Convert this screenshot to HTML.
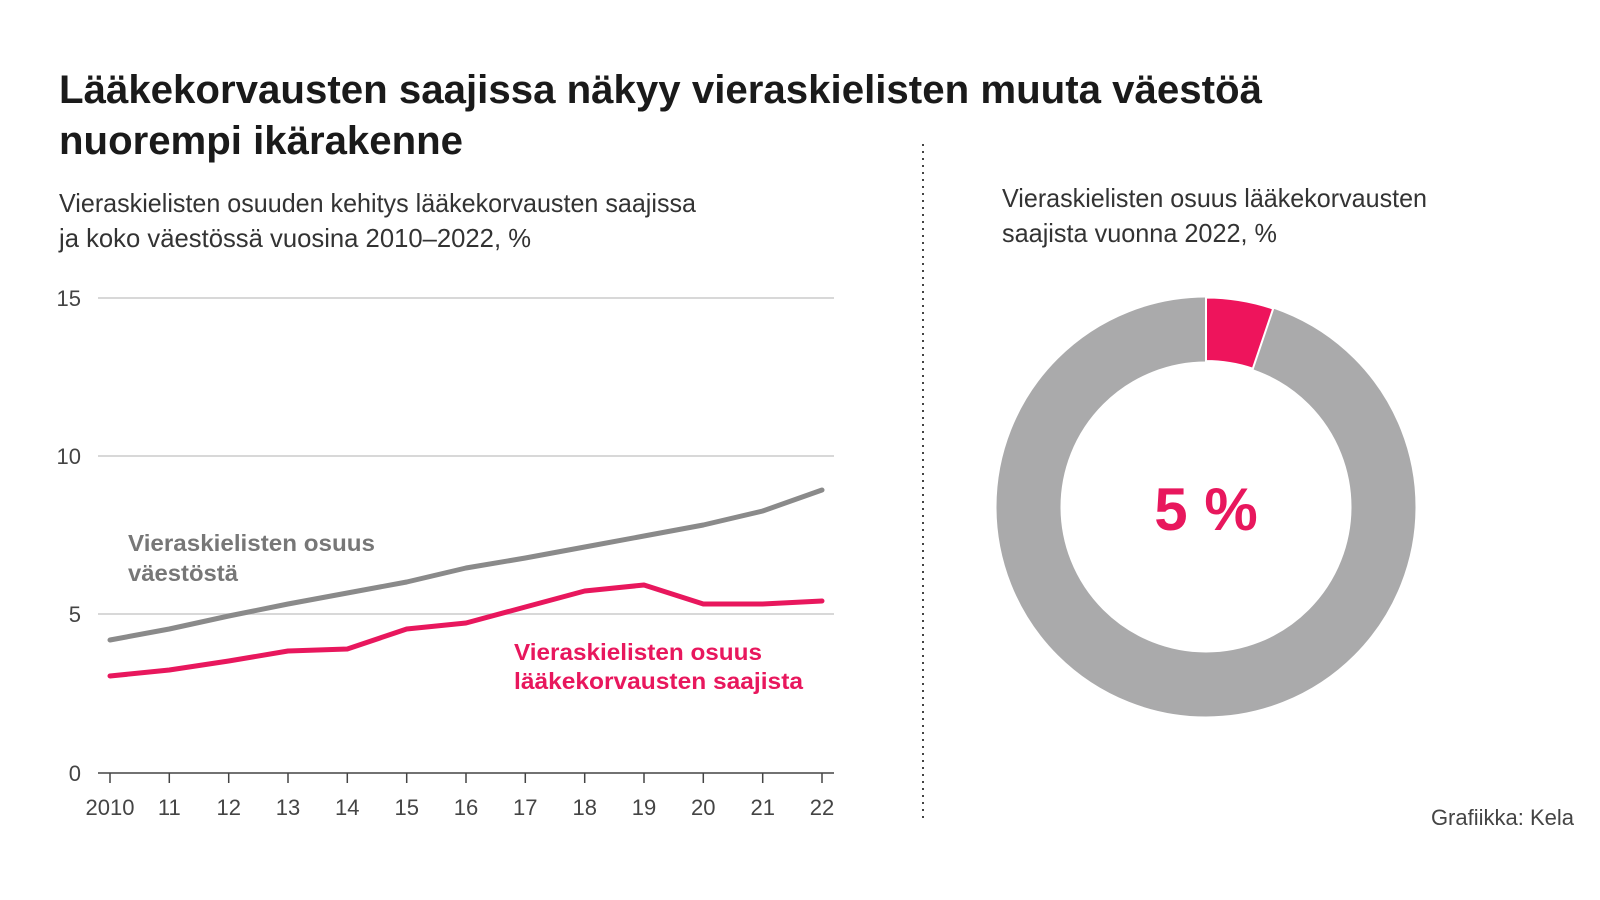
<!DOCTYPE html>
<html><head><meta charset="utf-8"><style>html,body{margin:0;padding:0;background:#fff}svg{display:block}</style></head>
<body>
<svg width="1600" height="900" viewBox="0 0 1600 900" xmlns="http://www.w3.org/2000/svg" font-family="Liberation Sans, sans-serif">
<text x="59" y="103" font-size="40" font-weight="bold" fill="#1a1a1a" textLength="1203" lengthAdjust="spacingAndGlyphs">Lääkekorvausten saajissa näkyy vieraskielisten muuta väestöä</text>
<text x="59" y="154" font-size="40" font-weight="bold" fill="#1a1a1a" textLength="404" lengthAdjust="spacingAndGlyphs">nuorempi ikärakenne</text>
<text x="59" y="212" font-size="26" fill="#333" textLength="637" lengthAdjust="spacingAndGlyphs">Vieraskielisten osuuden kehitys lääkekorvausten saajissa</text>
<text x="59" y="247" font-size="26" fill="#333" textLength="472" lengthAdjust="spacingAndGlyphs">ja koko väestössä vuosina 2010–2022, %</text>
<text x="1002" y="207" font-size="26" fill="#333" textLength="425" lengthAdjust="spacingAndGlyphs">Vieraskielisten osuus lääkekorvausten</text>
<text x="1002" y="242" font-size="26" fill="#333" textLength="275" lengthAdjust="spacingAndGlyphs">saajista vuonna 2022, %</text>
<line x1="923" y1="144" x2="923" y2="823" stroke="#444" stroke-width="2" stroke-dasharray="2,5"/>
<g stroke="#ccc" stroke-width="1.5">
<line x1="98" y1="298" x2="834" y2="298"/>
<line x1="98" y1="456" x2="834" y2="456"/>
<line x1="98" y1="614" x2="834" y2="614"/>
</g>
<line x1="98" y1="773" x2="834" y2="773" stroke="#444" stroke-width="1.5"/>
<g stroke="#444" stroke-width="1.5">
<line x1="110" y1="773" x2="110" y2="783"/><line x1="169.3" y1="773" x2="169.3" y2="783"/><line x1="228.7" y1="773" x2="228.7" y2="783"/><line x1="288" y1="773" x2="288" y2="783"/><line x1="347.3" y1="773" x2="347.3" y2="783"/><line x1="406.7" y1="773" x2="406.7" y2="783"/><line x1="466" y1="773" x2="466" y2="783"/><line x1="525.3" y1="773" x2="525.3" y2="783"/><line x1="584.7" y1="773" x2="584.7" y2="783"/><line x1="644" y1="773" x2="644" y2="783"/><line x1="703.3" y1="773" x2="703.3" y2="783"/><line x1="762.7" y1="773" x2="762.7" y2="783"/><line x1="822" y1="773" x2="822" y2="783"/>
</g>
<g font-size="22" fill="#444" text-anchor="end">
<text x="81" y="306">15</text><text x="81" y="464">10</text><text x="81" y="622">5</text><text x="81" y="781">0</text>
</g>
<g font-size="22" fill="#444" text-anchor="middle">
<text x="110" y="815">2010</text><text x="169.3" y="815">11</text><text x="228.7" y="815">12</text><text x="288" y="815">13</text><text x="347.3" y="815">14</text><text x="406.7" y="815">15</text><text x="466" y="815">16</text><text x="525.3" y="815">17</text><text x="584.7" y="815">18</text><text x="644" y="815">19</text><text x="703.3" y="815">20</text><text x="762.7" y="815">21</text><text x="822" y="815">22</text>
</g>
<polyline fill="none" stroke="#8a8a8a" stroke-width="5" stroke-linejoin="round" stroke-linecap="round" points="110,640 169.3,629 228.7,616 288,604 347.3,593 406.7,582 466,568 525.3,558 584.7,547 644,536 703.3,525 762.7,511 822,490"/>
<polyline fill="none" stroke="#e8175d" stroke-width="5" stroke-linejoin="round" stroke-linecap="round" points="110,676 169.3,670 228.7,661 288,651 347.3,649 406.7,629 466,623 525.3,607 584.7,591 644,585 703.3,604 762.7,604 822,601"/>
<text x="128" y="551" font-size="23" font-weight="bold" fill="#777" textLength="247" lengthAdjust="spacingAndGlyphs">Vieraskielisten osuus</text>
<text x="128" y="581" font-size="23" font-weight="bold" fill="#777" textLength="110" lengthAdjust="spacingAndGlyphs">väestöstä</text>
<text x="514" y="660" font-size="23" font-weight="bold" fill="#e8175d" textLength="248" lengthAdjust="spacingAndGlyphs">Vieraskielisten osuus</text>
<text x="514" y="689" font-size="23" font-weight="bold" fill="#e8175d" textLength="289" lengthAdjust="spacingAndGlyphs">lääkekorvausten saajista</text>
<circle cx="1206" cy="507" r="177.5" fill="none" stroke="#aaaaab" stroke-width="64"/>
<path d="M1206,297.5 A209.5,209.5 0 0 1 1273.2,308.6 L1252.8,368.7 A146,146 0 0 0 1206,361 Z" fill="#ee145c" stroke="#fff" stroke-width="2"/>
<text x="1206" y="530" font-size="60" font-weight="bold" fill="#e8175d" text-anchor="middle">5 %</text>
<text x="1574" y="825" font-size="22" fill="#444" text-anchor="end">Grafiikka: Kela</text>
</svg>
</body></html>
